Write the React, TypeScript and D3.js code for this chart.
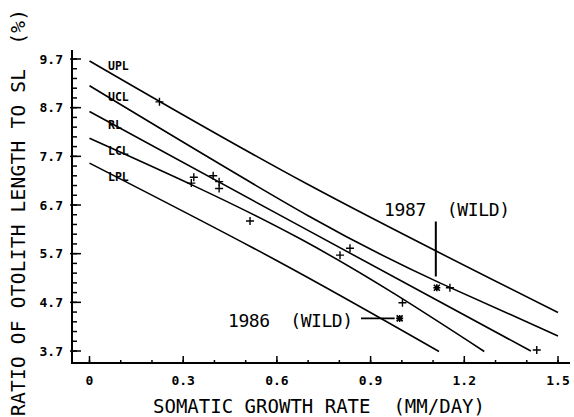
import React from "react";
import * as d3 from "d3";

// Curves: [growth rate, ratio]
const UPL: [number, number][] = [[0, 9.66], [0.7, 7.12], [1.5, 4.49]];
const UCL: [number, number][] = [[0, 9.15], [0.7, 6.48], [1.125, 5.09], [1.5, 4.01]];
const RL: [number, number][] = [[0, 8.62], [0.676, 6.26], [1.413, 3.70]];
const LCL: [number, number][] = [[0, 8.07], [0.676, 6.0], [1.264, 3.69]];
const LPL: [number, number][] = [[0, 7.56], [0.596, 5.57], [1.119, 3.69]];
const curveNames = ["UPL", "UCL", "RL", "LCL", "LPL"];
const curves = [UPL, UCL, RL, LCL, LPL];
const labelValues = [9.48, 8.84, 8.26, 7.72, 7.19];

const plusX = [0.224, 0.334, 0.326, 0.396, 0.415, 0.415, 0.514, 0.802, 0.834, 1.002, 1.154, 1.432];
const plusY = [8.82, 7.27, 7.15, 7.30, 7.18, 7.04, 6.37, 5.67, 5.81, 4.69, 5.00, 3.72];

const wildX = [1.112, 0.993];
const wildY = [5.0, 4.37];

const xTicks = [0, 0.3, 0.6, 0.9, 1.2, 1.5];
const xTickLabels = ["0", "0.3", "0.6", "0.9", "1.2", "1.5"];
const yTicks = [3.7, 4.7, 5.7, 6.7, 7.7, 8.7, 9.7];
const yTickLabels = ["3.7", "4.7", "5.7", "6.7", "7.7", "8.7", "9.7"];

const FONT = "'DejaVu Sans Mono', monospace";

export default function App() {
  const W = 574, H = 417;
  const x = d3.scaleLinear().domain([0, 1.5]).range([89.5, 558]);
  const y = d3.scaleLinear().domain([3.7, 9.7]).range([351, 59]);
  const line = d3.line<[number, number]>().x(d => x(d[0])).y(d => y(d[1])).curve(d3.curveNatural);
  const xMinor = d3.range(0, 16).map(i => i / 10);
  const yMinor = d3.range(0, 31).map(i => 3.7 + i * 0.2);
  const axX = 72, axY = 363;

  return (
    <svg width={W} height={H} style={{ position: "absolute", left: 0, top: 0, background: "#fff" }}>
      <rect width={W} height={H} fill="#fff" />
      {/* axes */}
      <line x1={axX} y1={50} x2={axX} y2={axY + 1} stroke="#000" strokeWidth={2} />
      <line x1={axX - 1} y1={axY} x2={570} y2={axY} stroke="#000" strokeWidth={2} />
      {yMinor.map((v, i) => (
        <line key={"ym" + i} x1={axX} x2={axX + 5} y1={y(v)} y2={y(v)} stroke="#000" strokeWidth={1.5} />
      ))}
      {yTicks.map((v, i) => (
        <g key={"yt" + i}>
          <line x1={axX - 2} x2={axX + 9} y1={y(v)} y2={y(v)} stroke="#000" strokeWidth={1.5} />
          <text x={63} y={y(v) + 4.5} textAnchor="end" fontFamily={FONT} fontSize={13} fontWeight="bold">{yTickLabels[i]}</text>
        </g>
      ))}
      {xMinor.map((v, i) => (
        <line key={"xm" + i} x1={x(v)} x2={x(v)} y1={axY} y2={axY - 3} stroke="#000" strokeWidth={1.5} />
      ))}
      {xTicks.map((v, i) => (
        <g key={"xt" + i}>
          <line x1={x(v)} x2={x(v)} y1={axY} y2={axY - 7} stroke="#000" strokeWidth={1.5} />
          <text x={x(v)} y={385} textAnchor="middle" fontFamily={FONT} fontSize={13} fontWeight="bold">{xTickLabels[i]}</text>
        </g>
      ))}
      {/* titles */}
      <text x={153} y={413} fontFamily={FONT} fontSize={19} textLength={332} lengthAdjust="spacing" xmlSpace="preserve">SOMATIC GROWTH RATE  (MM/DAY)</text>
      <text transform="translate(25,416) rotate(-90)" x={0} y={0} fontFamily={FONT} fontSize={19.5} textLength={407} lengthAdjust="spacing" xmlSpace="preserve">RATIO OF OTOLITH LENGTH TO SL  (%)</text>
      {/* curves */}
      {curves.map((c, i) => (
        <path key={"c" + i} d={line(c) || ""} fill="none" stroke="#000" strokeWidth={1.6} />
      ))}
      {curveNames.map((n, i) => (
        <text key={"cl" + i} x={108} y={y(labelValues[i])} fontFamily={FONT} fontSize={11.5} fontWeight="bold">{n}</text>
      ))}
      {/* plus points */}
      {plusX.map((v, i) => (
        <path key={"p" + i} d={`M${x(v) - 4},${y(plusY[i])}h8M${x(v)},${y(plusY[i]) - 4}v8`} stroke="#000" strokeWidth={1.4} />
      ))}
      {/* wild points (asterisks) */}
      {wildX.map((v, i) => {
        const cx = x(v), cy = y(wildY[i]);
        return (
          <path key={"w" + i} d={`M${cx - 3.5},${cy}h7M${cx},${cy - 3.5}v7M${cx - 3},${cy - 3}l6,6M${cx - 3},${cy + 3}l6,-6`} stroke="#000" strokeWidth={1.6} />
        );
      })}
      {/* annotations */}
      <text x={384} y={216} fontFamily={FONT} fontSize={18} textLength={126} lengthAdjust="spacing" xmlSpace="preserve">1987  (WILD)</text>
      <line x1={x(wildX[0]) - 1} x2={x(wildX[0]) - 1} y1={221.5} y2={276.5} stroke="#000" strokeWidth={2} />
      <text x={228} y={326.5} fontFamily={FONT} fontSize={18} textLength={125} lengthAdjust="spacing" xmlSpace="preserve">1986  (WILD)</text>
      <line x1={361} x2={x(wildX[1]) - 5} y1={y(wildY[1])} y2={y(wildY[1])} stroke="#000" strokeWidth={1.6} />
    </svg>
  );
}
